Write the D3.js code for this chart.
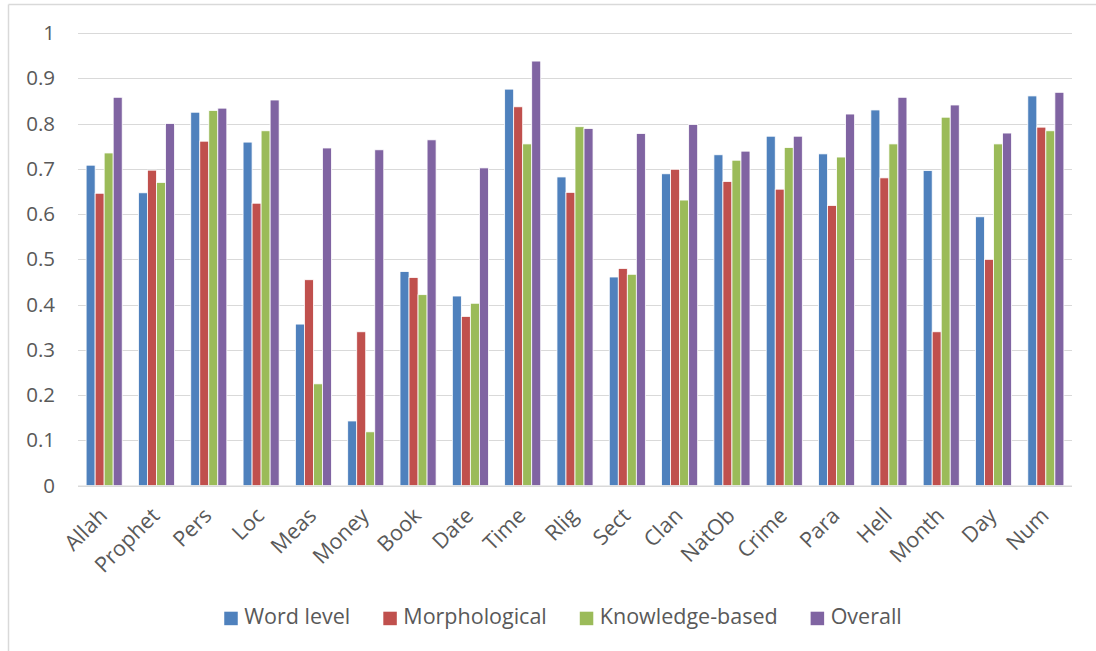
<!DOCTYPE html>
<html>
<head>
<meta charset="utf-8">
<script src="https://cdn.jsdelivr.net/npm/d3@7"></script>
<style>
  html, body { margin: 0; padding: 0; background: #fff; }
  svg { display: block; font-family: "Open Sans", sans-serif; }
</style>
</head>
<body>
<svg id="chart" width="1096" height="651"></svg>
<script>
// Entity categories along the x axis
const categories = ["Allah", "Prophet", "Pers", "Loc", "Meas", "Money", "Book", "Date", "Time", "Rlig",
  "Sect", "Clan", "NatOb", "Crime", "Para", "Hell", "Month", "Day", "Num"];

// Series names and their scores per category
const seriesNames = ["Word level", "Morphological", "Knowledge-based", "Overall"];
const wordLevel     = [0.708, 0.647, 0.825, 0.759, 0.357, 0.143, 0.473, 0.419, 0.876, 0.682, 0.461, 0.689, 0.731, 0.772, 0.733, 0.830, 0.696, 0.594, 0.861];
const morphological = [0.646, 0.697, 0.761, 0.624, 0.455, 0.340, 0.460, 0.374, 0.837, 0.648, 0.480, 0.699, 0.672, 0.655, 0.619, 0.680, 0.340, 0.500, 0.792];
const knowledge     = [0.735, 0.670, 0.829, 0.784, 0.225, 0.119, 0.422, 0.403, 0.755, 0.793, 0.467, 0.631, 0.719, 0.747, 0.726, 0.755, 0.814, 0.755, 0.784];
const overall       = [0.858, 0.800, 0.834, 0.852, 0.746, 0.742, 0.764, 0.702, 0.938, 0.789, 0.778, 0.798, 0.739, 0.772, 0.821, 0.858, 0.841, 0.779, 0.869];

// Y axis tick values
const yTicks = [0, 0.1, 0.2, 0.3, 0.4, 0.5, 0.6, 0.7, 0.8, 0.9, 1];

const seriesValues = [wordLevel, morphological, knowledge, overall];
const colors = ["#4F81BD", "#C0504D", "#9BBB59", "#8064A2"];

const svg = d3.select("#chart");
const textColor = "#595959";
const gridColor = "#d9d9d9";

// Outer frame (left and top edges visible)
svg.append("line").attr("x1", 8.5).attr("x2", 8.5).attr("y1", 4.5).attr("y2", 651)
  .attr("stroke", gridColor).attr("stroke-width", 1.5);
svg.append("line").attr("x1", 8.5).attr("x2", 1096).attr("y1", 4.5).attr("y2", 4.5)
  .attr("stroke", gridColor).attr("stroke-width", 1.5);

const plot = { left: 78, right: 1072, top: 33, bottom: 485.7 };

const y = d3.scaleLinear().domain([0, 1]).range([plot.bottom, plot.top]);
const x0 = d3.scaleBand().domain(categories).range([plot.left, plot.right]).padding(0);
const x1 = d3.scaleBand().domain(seriesNames).range([0, x0.bandwidth()])
  .paddingInner(0).paddingOuter(0.9);

// Horizontal gridlines
svg.append("g").selectAll("line").data(yTicks.filter(t => t > 0)).join("line")
  .attr("x1", plot.left).attr("x2", plot.right)
  .attr("y1", d => Math.round(y(d)) + 0.5).attr("y2", d => Math.round(y(d)) + 0.5)
  .attr("stroke", gridColor).attr("stroke-width", 1.2);

// Y axis labels
const yAxis = d3.axisLeft(y).tickValues(yTicks).tickSize(0).tickPadding(23)
  .tickFormat(d => d === 0 || d === 1 ? d3.format("d")(d) : d3.format(".1f")(d));
svg.append("g").attr("transform", `translate(${plot.left},0)`).call(yAxis)
  .call(g => g.select(".domain").remove())
  .call(g => g.selectAll("text").attr("fill", textColor).attr("font-size", 20.5)
    .attr("font-family", "'Open Sans', sans-serif"));

// Bars
const rows = categories.map((c, i) => ({ cat: c, vals: seriesNames.map((s, k) => ({ s, k, v: seriesValues[k][i] })) }));
const groups = svg.append("g").selectAll("g").data(rows).join("g")
  .attr("transform", d => `translate(${x0(d.cat)},0)`);
groups.selectAll("rect").data(d => d.vals).join("rect")
  .attr("x", d => x1(d.s))
  .attr("y", d => y(d.v))
  .attr("width", x1.bandwidth())
  .attr("height", d => y(0) - y(d.v))
  .attr("fill", d => colors[d.k])
  .attr("stroke", "#ffffff").attr("stroke-width", 0.8);

// X axis baseline
svg.append("line").attr("x1", plot.left).attr("x2", plot.right)
  .attr("y1", plot.bottom + 0.5).attr("y2", plot.bottom + 0.5)
  .attr("stroke", gridColor).attr("stroke-width", 1.5);

// Rotated category labels
svg.append("g").selectAll("text").data(categories).join("text")
  .attr("transform", d => `translate(${x0(d) + x0.bandwidth() / 2 - 1},${plot.bottom + 26}) rotate(-45)`)
  .attr("text-anchor", "end")
  .attr("dy", "0.35em")
  .attr("font-size", 21.5)
  .attr("fill", textColor)
  .text(d => d);

// Legend: swatch + label per series, centred under the plot
const legend = svg.append("g");
let lx = 0;
seriesNames.forEach((name, k) => {
  const g = legend.append("g").attr("transform", `translate(${lx},0)`);
  g.append("rect").attr("x", 0).attr("y", -12).attr("width", 13.5).attr("height", 13.5).attr("fill", colors[k]);
  const t = g.append("text").attr("x", 20).attr("y", 0)
    .attr("font-size", 21.5).attr("fill", textColor).text(name);
  lx += 20 + t.node().getComputedTextLength() + 33;
});
const legendWidth = lx - 33;
legend.attr("transform", `translate(${563 - legendWidth / 2},623.7)`);
</script>
</body>
</html>
